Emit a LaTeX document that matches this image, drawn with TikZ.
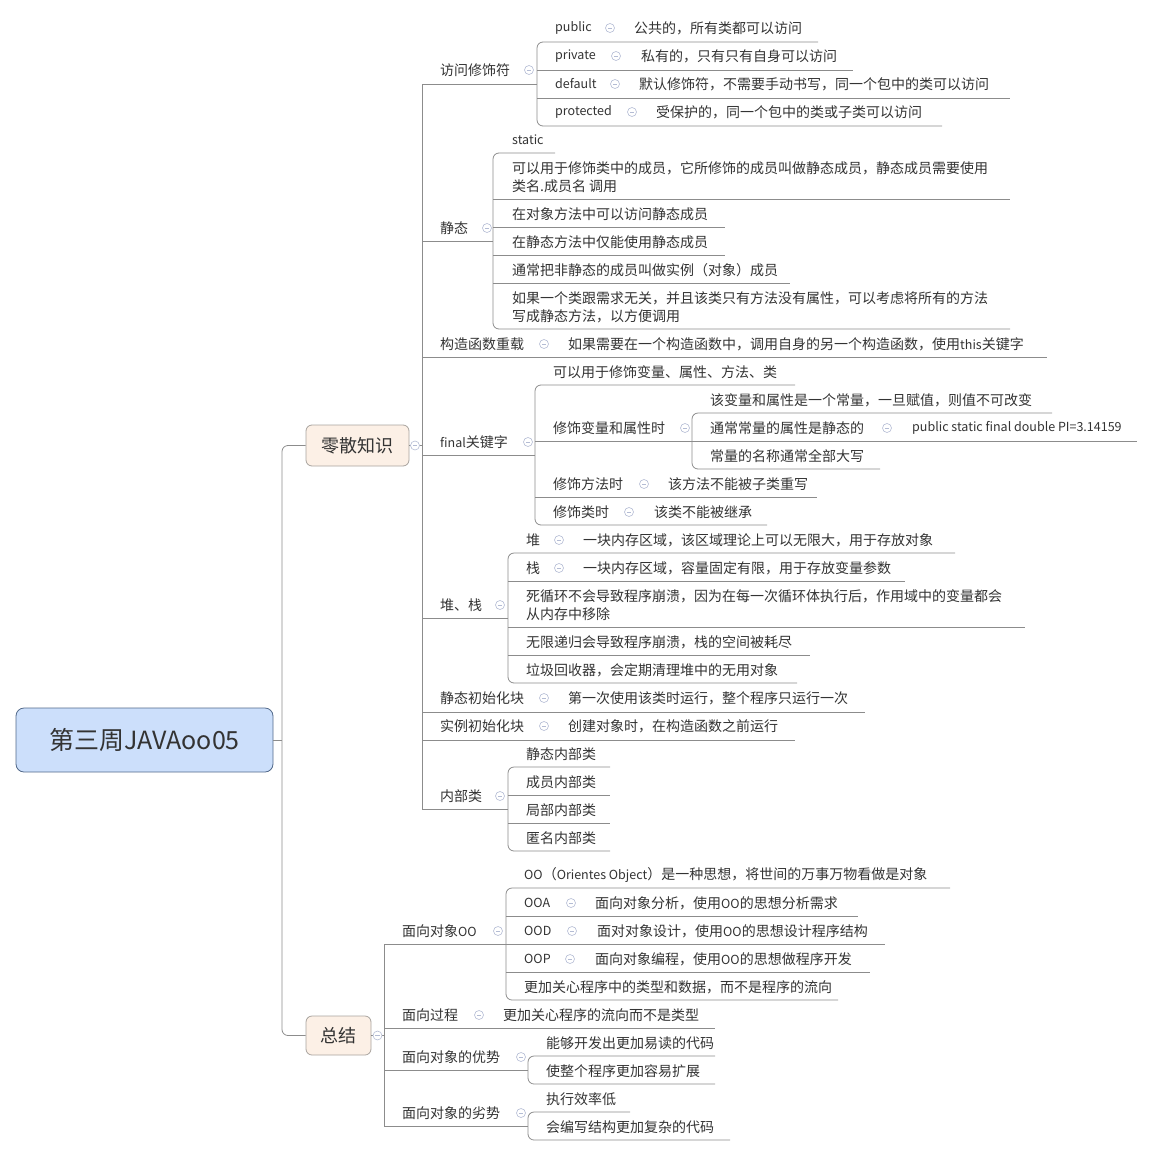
\documentclass[tikz,border=0pt]{standalone}
\usepackage{fontspec}
\setmainfont{Noto Sans CJK SC}
\definecolor{lc}{HTML}{8C8C8C}
\definecolor{txt}{HTML}{333333}
\definecolor{ccol}{HTML}{B4BCD4}
\definecolor{rootfill}{HTML}{CCDFFB}
\definecolor{rootdraw}{HTML}{52698A}
\definecolor{subfill}{HTML}{FCF0E6}
\definecolor{subdraw}{HTML}{A8A39E}
\newcommand\lat[1]{{\fontsize{12.5}{18}\selectfont #1}}
\begin{document}
\begin{tikzpicture}[x=1pt,y=-1pt,
  t/.style={anchor=west, inner sep=0pt, text=txt, font=\fontsize{14}{18}\selectfont, align=left},
  ln/.style={draw=lc, line width=0.8pt},
  rl/.style={ln, rounded corners=6pt},
  cc/.style={circle, draw=ccol, fill=white, minimum size=9pt, inner sep=0pt, line width=0.6pt,
    path picture={\draw[ccol, line width=0.6pt] ([xshift=-2.2pt]path picture bounding box.center) -- ([xshift=2.2pt]path picture bounding box.center);}},
  rootbox/.style={draw=rootdraw, fill=rootfill, rounded corners=8pt, line width=0.8pt, minimum width=257pt, minimum height=64pt, text=black!80, font=\fontsize{25}{30}\selectfont},
  subbox/.style={draw=subdraw, fill=subfill, rounded corners=6pt, line width=0.8pt, text=txt, font=\fontsize{18}{22}\selectfont}
]
\useasboundingbox (0,0) rectangle (1153,1156);

% ---------- root ----------
\node[rootbox] (root) at (144.5,740) {第三周JAVAoo05};
\node[subbox, minimum width=103pt, minimum height=41pt] (ls) at (357.5,445.5) {零散知识};
\node[subbox, minimum width=65pt, minimum height=39pt] (zj) at (338.5,1035.5) {总结};
\coordinate (rb) at (282,740);
\draw[ln] (root.east) -- (rb);
\draw[rl] (ls.west) -- (282,445.5) -- (282,1035.5) -- (zj.west);
\draw[ln] (ls.east) -- (422,445.5);
\node[cc] (cls) at (415,445.5) {};
\draw[ln] (zj.east) -- (384,1035.5);
\node[cc] (czj) at (377.5,1035.5) {};

% ---------- level-1 bar (零散知识) ----------
\draw[ln] (537,84) -- (422,84) -- (422,809) -- (508,809);
\draw[ln] (422,241) -- (493,241);
\draw[ln] (422,357) -- (1047,357);
\draw[ln] (422,455) -- (535,455);
\draw[ln] (422,618) -- (508,618);
\draw[ln] (422,712) -- (865,712);
\draw[ln] (422,740) -- (795,740);

% 访问修饰符
\node[t] (fw) at (440,70) {访问修饰符};
\node[cc] (cfw) at (529,70) {};
\node[t] (pub) at (555,28) {\lat{public}};
\node[cc] (cpub) at (610,28) {};
\node[t] (pubd) at (634,28) {公共的，所有类都可以访问};
\node[t] (pri) at (555,56) {\lat{private}};
\node[cc] (cpri) at (616,56) {};
\node[t] (prid) at (641,56) {私有的，只有只有自身可以访问};
\node[t] (def) at (555,84) {\lat{default}};
\node[cc] (cdef) at (615,84) {};
\node[t] (defd) at (639,84) {默认修饰符，不需要手动书写，同一个包中的类可以访问};
\node[t] (pro) at (555,112) {\lat{protected}};
\node[cc] (cpro) at (632,112) {};
\node[t] (prod) at (656,112) {受保护的，同一个包中的类或子类可以访问};
\draw[rl] (818,42) -- (537,42) -- (537,126) -- (942,126);
\draw[ln] (537,70) -- (853,70);
\draw[ln] (537,98) -- (1010,98);

% 静态
\node[t] (jt) at (440,228) {静态};
\node[cc] (cjt) at (487,228) {};
\node[t] (st) at (512,140) {\lat{static}};
\node[t] (jt1) at (512,177) {可以用于修饰类中的成员，它所修饰的成员叫做静态成员，静态成员需要使用\\类名.成员名 调用};
\node[t] (jt2) at (512,214) {在对象方法中可以访问静态成员};
\node[t] (jt3) at (512,242) {在静态方法中仅能使用静态成员};
\node[t] (jt4) at (512,270) {通常把非静态的成员叫做实例（对象）成员};
\node[t] (jt5) at (512,307) {如果一个类跟需求无关，并且该类只有方法没有属性，可以考虑将所有的方法\\写成静态方法，以方便调用};
\draw[rl] (555,153) -- (493,153) -- (493,329) -- (1010,329);
\draw[ln] (493,199) -- (1010,199);
\draw[ln] (493,227) -- (725,227);
\draw[ln] (493,255) -- (725,255);
\draw[ln] (493,283) -- (790,283);

% 构造函数重载
\node[t] (gz) at (440,344) {构造函数重载};
\node[cc] (cgz) at (544,344) {};
\node[t] (gzd) at (568,344) {如果需要在一个构造函数中，调用自身的另一个构造函数，使用\lat{this}关键字};

% final关键字
\node[t] (fin) at (440,442) {\lat{final}关键字};
\node[cc] (cfin) at (528,442) {};
\node[t] (f1) at (553,372) {可以用于修饰变量、属性、方法、类};
\node[t] (f2) at (553,428) {修饰变量和属性时};
\node[cc] (cf2) at (685,428) {};
\node[t] (f21) at (710,400) {该变量和属性是一个常量，一旦赋值，则值不可改变};
\node[t] (f22) at (710,428) {通常常量的属性是静态的};
\node[cc] (cf22) at (887,428) {};
\node[t] (f22d) at (912,428) {\lat{public static final double PI=3.14159}};
\node[t] (f23) at (710,456) {常量的名称通常全部大写};
\node[t] (f3) at (553,484) {修饰方法时};
\node[cc] (cf3) at (644,484) {};
\node[t] (f3d) at (668,484) {该方法不能被子类重写};
\node[t] (f4) at (553,512) {修饰类时};
\node[cc] (cf4) at (629,512) {};
\node[t] (f4d) at (654,512) {该类不能被继承};
\draw[rl] (795,385) -- (535,385) -- (535,525) -- (767,525);
\draw[ln] (535,441) -- (692,441);
\draw[ln] (535,497) -- (817,497);
\draw[rl] (1052,413) -- (692,413) -- (692,469) -- (880,469);
\draw[ln] (692,441) -- (1137,441);

% 堆、栈
\node[t] (dz) at (440,605) {堆、栈};
\node[cc] (cdz) at (500,605) {};
\node[t] (d1) at (526,540) {堆};
\node[cc] (cd1) at (559,540) {};
\node[t] (d1d) at (583,540) {一块内存区域，该区域理论上可以无限大，用于存放对象};
\node[t] (d2) at (526,568) {栈};
\node[cc] (cd2) at (559,568) {};
\node[t] (d2d) at (583,568) {一块内存区域，容量固定有限，用于存放变量参数};
\node[t] (d3) at (526,605) {死循环不会导致程序崩溃，因为在每一次循环体执行后，作用域中的变量都会\\从内存中移除};
\node[t] (d4) at (526,642) {无限递归会导致程序崩溃，栈的空间被耗尽};
\node[t] (d5) at (526,670) {垃圾回收器，会定期清理堆中的无用对象};
\draw[rl] (955,553) -- (508,553) -- (508,683) -- (797,683);
\draw[ln] (508,581) -- (905,581);
\draw[ln] (508,627) -- (1025,627);
\draw[ln] (508,655) -- (810,655);

% 初始化块
\node[t] (jc) at (440,698) {静态初始化块};
\node[cc] (cjc) at (544,698) {};
\node[t] (jcd) at (568,698) {第一次使用该类时运行，整个程序只运行一次};
\node[t] (sc) at (440,726) {实例初始化块};
\node[cc] (csc) at (544,726) {};
\node[t] (scd) at (568,726) {创建对象时，在构造函数之前运行};

% 内部类
\node[t] (nb) at (440,796) {内部类};
\node[cc] (cnb) at (500,796) {};
\node[t] (nb1) at (526,754) {静态内部类};
\node[t] (nb2) at (526,782) {成员内部类};
\node[t] (nb3) at (526,810) {局部内部类};
\node[t] (nb4) at (526,838) {匿名内部类};
\draw[rl] (610,767) -- (508,767) -- (508,851) -- (610,851);
\draw[ln] (508,795) -- (610,795);
\draw[ln] (508,823) -- (610,823);

% ---------- 总结 ----------
\draw[ln] (506,944) -- (384,944) -- (384,1126) -- (528,1126);
\draw[ln] (384,1028) -- (715,1028);
\draw[ln] (384,1070) -- (528,1070);

\node[t] (oo) at (402,931) {面向对象\lat{OO}};
\node[cc] (coo) at (498,931) {};
\node[t] (oo1) at (524,875) {\lat{OO}（\lat{Orientes Object}）是一种思想，将世间的万事万物看做是对象};
\node[t] (ooa) at (524,903) {\lat{OOA}};
\node[cc] (cooa) at (571,903) {};
\node[t] (ooad) at (595,903) {面向对象分析，使用\lat{OO}的思想分析需求};
\node[t] (ood) at (524,931) {\lat{OOD}};
\node[cc] (cood) at (572,931) {};
\node[t] (oodd) at (597,931) {面对对象设计，使用\lat{OO}的思想设计程序结构};
\node[t] (oop) at (524,959) {\lat{OOP}};
\node[cc] (coop) at (570,959) {};
\node[t] (oopd) at (595,959) {面向对象编程，使用\lat{OO}的思想做程序开发};
\node[t] (oo5) at (524,987) {更加关心程序中的类型和数据，而不是程序的流向};
\draw[rl] (950,888) -- (506,888) -- (506,1000) -- (838,1000);
\draw[ln] (506,916) -- (858,916);
\draw[ln] (506,944) -- (885,944);
\draw[ln] (506,972) -- (870,972);

\node[t] (gc) at (402,1015) {面向过程};
\node[cc] (cgc) at (479,1015) {};
\node[t] (gcd) at (503,1015) {更加关心程序的流向而不是类型};

\node[t] (ys) at (402,1057) {面向对象的优势};
\node[cc] (cys) at (521,1057) {};
\node[t] (ys1) at (546,1043) {能够开发出更加易读的代码};
\node[t] (ys2) at (546,1071) {使整个程序更加容易扩展};
\draw[rl] (715,1056) -- (528,1056) -- (528,1084) -- (715,1084);

\node[t] (ls2) at (402,1113) {面向对象的劣势};
\node[cc] (cls2) at (521,1113) {};
\node[t] (ls21) at (546,1099) {执行效率低};
\node[t] (ls22) at (546,1127) {会编写结构更加复杂的代码};
\draw[rl] (630,1112) -- (528,1112) -- (528,1140) -- (730,1140);
\end{tikzpicture}
\end{document}
